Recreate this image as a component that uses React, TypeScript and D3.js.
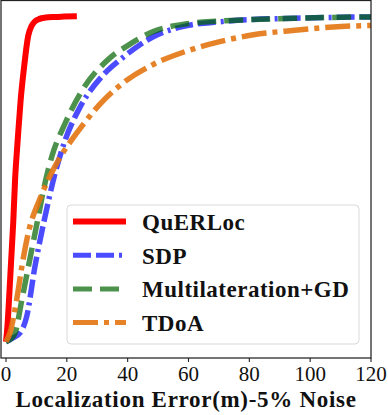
import { useEffect, useRef } from "react";
import * as d3 from "d3";

// CDF of localization error, 5% noise
const xTicks = [0, 20, 40, 60, 80, 100, 120];

const querlocX = [0, 0.5, 1, 1.7, 2.4, 3, 3.7, 4.0, 4.8, 5.9, 7.3, 8.4, 9.5, 11, 13, 16, 19, 23.3];
const querlocY = [0, 0.05, 0.13, 0.25, 0.37, 0.5, 0.6, 0.64, 0.74, 0.84, 0.94, 0.97, 0.984, 0.992, 0.996, 0.998, 0.999, 1];

const sdpX = [0, 2, 4.6, 6.8, 9.5, 12.8, 16.1, 19.4, 24.3, 32, 38, 48.4, 60, 70, 81, 95, 110, 120];
const sdpY = [0, 0.01, 0.027, 0.077, 0.23, 0.383, 0.516, 0.618, 0.72, 0.82, 0.87, 0.937, 0.972, 0.983, 0.99, 0.994, 0.997, 0.998];

const multiX = [0, 1.5, 3, 5.2, 8.4, 10.6, 12.3, 15, 19.4, 24.9, 34.2, 40, 48.4, 59.4, 70, 81, 95, 110, 120];
const multiY = [0, 0.008, 0.027, 0.128, 0.28, 0.383, 0.465, 0.567, 0.67, 0.77, 0.872, 0.91, 0.953, 0.977, 0.985, 0.99, 0.994, 0.997, 0.998];

const tdoaX = [0, 1.3, 3.5, 5.2, 7.3, 11.2, 14.5, 17.8, 21.6, 25.4, 30.9, 37.5, 48.4, 59.4, 70.3, 81.3, 95, 107.5, 120];
const tdoaY = [0, 0.027, 0.128, 0.23, 0.333, 0.44, 0.51, 0.567, 0.62, 0.668, 0.73, 0.788, 0.852, 0.893, 0.922, 0.943, 0.957, 0.967, 0.972];

const seriesNames = ["QuERLoc", "SDP", "Multilateration+GD", "TDoA"];

const width = 388;
const height = 415;
const plot = { left: 1, right: 371, top: 0, bottom: 358 };

const styles = [
  { color: "#ff0000", opacity: 1, width: 6, dash: null },
  { color: "#0000ff", opacity: 0.7, width: 5.5, dash: "18,5,18,5,3,5" },
  { color: "#006400", opacity: 0.7, width: 5.5, dash: "19,8" },
  { color: "#e37512", opacity: 0.9, width: 5.5, dash: "25,6,5,6" },
];

const App = () => {
  const ref = useRef<SVGSVGElement>(null);

  useEffect(() => {
    const svg = d3.select(ref.current);
    svg.selectAll("*").remove();

    const x = d3.scaleLinear().domain([-1.64, 120]).range([plot.left, plot.right]);
    const y = d3.scaleLinear().domain([-0.05, 1.05]).range([plot.bottom, plot.top]);

    const series = [
      d3.zip(querlocX, querlocY),
      d3.zip(sdpX, sdpY),
      d3.zip(multiX, multiY),
      d3.zip(tdoaX, tdoaY),
    ];

    const line = d3
      .line<number[]>()
      .x((d) => x(d[0]))
      .y((d) => y(d[1]))
      .curve(d3.curveMonotoneX);

    const g = svg.append("g");
    g.append("clipPath")
      .attr("id", "clip")
      .append("rect")
      .attr("x", plot.left)
      .attr("y", plot.top)
      .attr("width", plot.right - plot.left)
      .attr("height", plot.bottom - plot.top);

    series.forEach((s, i) => {
      const st = styles[i];
      g.append("path")
        .datum(s)
        .attr("clip-path", "url(#clip)")
        .attr("d", line)
        .attr("fill", "none")
        .attr("stroke", st.color)
        .attr("stroke-opacity", st.opacity)
        .attr("stroke-width", st.width)
        .attr("stroke-dasharray", st.dash)
        .attr("stroke-linejoin", "round");
    });

    // frame
    g.append("rect")
      .attr("x", plot.left)
      .attr("y", plot.top + 0.5)
      .attr("width", plot.right - plot.left)
      .attr("height", plot.bottom - plot.top - 0.5)
      .attr("fill", "none")
      .attr("stroke", "#222")
      .attr("stroke-width", 1.25);

    // x axis
    const axis = g.append("g").attr("transform", `translate(0,${plot.bottom})`);
    xTicks.forEach((t) => {
      axis.append("line")
        .attr("x1", x(t)).attr("x2", x(t))
        .attr("y1", 0).attr("y2", 4)
        .attr("stroke", "#222").attr("stroke-width", 1.1);
      axis.append("text")
        .attr("x", x(t))
        .attr("y", 23)
        .attr("text-anchor", "middle")
        .attr("font-family", "Liberation Serif, serif")
        .attr("font-size", 21)
        .attr("fill", "#111")
        .text(t);
    });

    g.append("text")
      .attr("x", (plot.left + plot.right) / 2)
      .attr("y", 406.5)
      .attr("text-anchor", "middle")
      .attr("font-family", "Liberation Serif, serif")
      .attr("font-weight", "bold")
      .attr("font-size", 23)
      .attr("letter-spacing", 0.7)
      .attr("fill", "#111")
      .text("Localization Error(m)-5% Noise");

    // legend
    const leg = g.append("g");
    leg.append("rect")
      .attr("x", 67).attr("y", 205)
      .attr("width", 292).attr("height", 139)
      .attr("rx", 4)
      .attr("fill", "white").attr("fill-opacity", 0.85)
      .attr("stroke", "#d9d9d9").attr("stroke-width", 1);

    seriesNames.forEach((name, i) => {
      const st = styles[i];
      const cy = 221.5 + i * 33.7;
      leg.append("line")
        .attr("x1", 73).attr("x2", 126)
        .attr("y1", cy).attr("y2", cy)
        .attr("stroke", st.color)
        .attr("stroke-opacity", st.opacity)
        .attr("stroke-width", i === 0 ? 6 : 5)
        .attr("stroke-dasharray", st.dash);
      leg.append("text")
        .attr("x", 142)
        .attr("y", cy + 8.3)
        .attr("font-family", "Liberation Serif, serif")
        .attr("font-weight", "bold")
        .attr("font-size", 23)
        .attr("letter-spacing", 0.5)
        .attr("fill", "#111")
        .text(name);
    });
  }, []);

  return (
    <svg
      ref={ref}
      width={width}
      height={height}
      style={{ position: "absolute", left: 0, top: 0, background: "white" }}
    />
  );
};

export default App;
